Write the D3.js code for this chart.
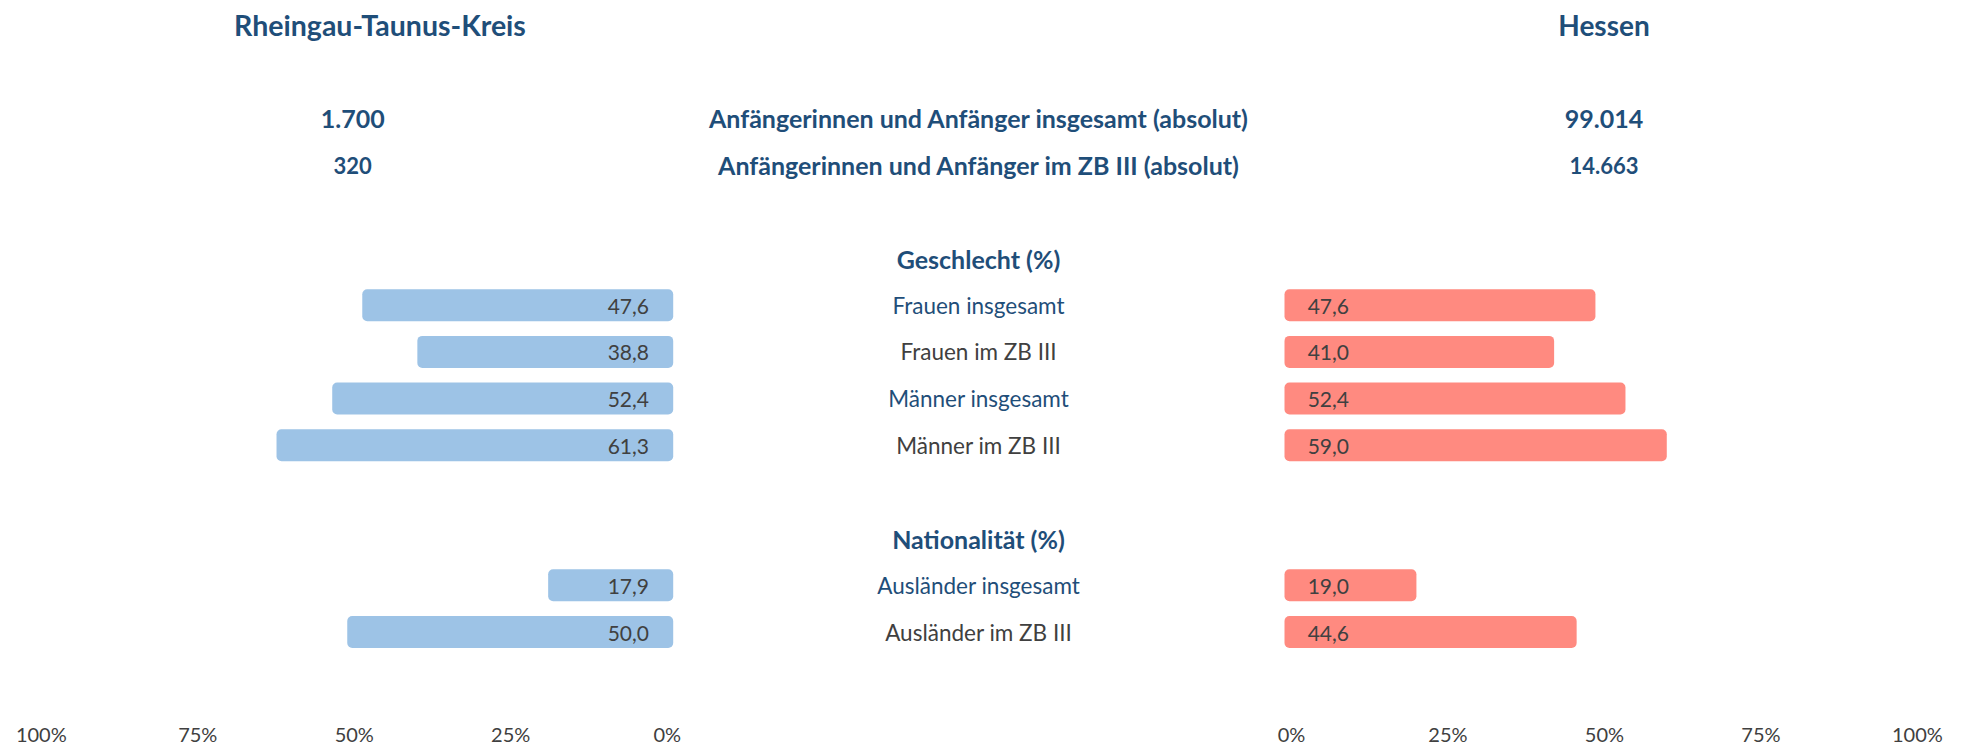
<!DOCTYPE html>
<html>
<head>
<meta charset="utf-8">
<script src="https://cdn.jsdelivr.net/npm/d3@7"></script>
<style>
  body { margin: 0; background: #fff; }
  text { font-family: Lato, "Open Sans", sans-serif; }
</style>
</head>
<body>
<div id="chart"></div>
<script>
// data
var regionNames = ["Rheingau-Taunus-Kreis", "Hessen"];
var totalLabels = ["Anfängerinnen und Anfänger insgesamt (absolut)", "Anfängerinnen und Anfänger im ZB III (absolut)"];
var kreisTotals = ["1.700", "320"];
var hessenTotals = ["99.014", "14.663"];
var groups = ["Geschlecht (%)", "Nationalität (%)"];
var categories = ["Frauen insgesamt", "Frauen im ZB III", "Männer insgesamt", "Männer im ZB III", "Ausländer insgesamt", "Ausländer im ZB III"];
var kreisValues = [47.6, 38.8, 52.4, 61.3, 17.9, 50.0];
var hessenValues = [47.6, 41.0, 52.4, 59.0, 19.0, 44.6];
var axisTicks = [0, 25, 50, 75, 100];

// row of each category / heading in the list (row 5 is left empty)
var groupRows = [0, 6];
var categoryRows = [1, 2, 3, 4, 7, 8];

const width = 1969, height = 746;
const darkBlue = "#1f4e79", grey = "#404040";
const blueBar = "#9dc3e6", redBar = "#ff8a80";
const midX = 978.5, leftX = 352.7, rightX = 1604;
const pad = 6.5, barH = 32;

const svg = d3.select("#chart").append("svg")
  .attr("width", width)
  .attr("height", height);

// vertical position by row
const rowY = d3.scaleLinear().domain([0, 8]).range([258.5, 632]);

// horizontal scales, left side goes to the left
const xL = d3.scaleLinear().domain([0, 100]).range([666.7, 40.8]);
const xR = d3.scaleLinear().domain([0, 100]).range([1291, 1916.9]);

// titles
svg.append("text").text(regionNames[0])
  .attr("x", 380).attr("y", rowY(-5))
  .attr("text-anchor", "middle").attr("dominant-baseline", "central")
  .attr("font-size", "28.5px").attr("font-weight", "bold").attr("fill", darkBlue);
svg.append("text").text(regionNames[1])
  .attr("x", rightX).attr("y", rowY(-5))
  .attr("text-anchor", "middle").attr("dominant-baseline", "central")
  .attr("font-size", "28px").attr("font-weight", "bold").attr("fill", darkBlue);

// absolute numbers
totalLabels.forEach(function (lab, i) {
  var y = rowY(-3 + i);
  var fs = i == 0 ? "25px" : "22px";
  svg.append("text").text(kreisTotals[i])
    .attr("x", leftX).attr("y", y)
    .attr("text-anchor", "middle").attr("dominant-baseline", "central")
    .attr("font-size", fs).attr("font-weight", "bold").attr("fill", darkBlue);
  svg.append("text").text(lab)
    .attr("x", midX).attr("y", y)
    .attr("text-anchor", "middle").attr("dominant-baseline", "central")
    .attr("font-size", "25px").attr("font-weight", "bold").attr("fill", darkBlue);
  svg.append("text").text(hessenTotals[i])
    .attr("x", rightX).attr("y", y)
    .attr("text-anchor", "middle").attr("dominant-baseline", "central")
    .attr("font-size", fs).attr("font-weight", "bold").attr("fill", darkBlue);
});

// group headings
svg.selectAll(".group")
  .data(groups)
  .enter()
  .append("text")
  .attr("class", "group")
  .text(function (d) { return d; })
  .attr("x", midX)
  .attr("y", function (d, i) { return rowY(groupRows[i]); })
  .attr("text-anchor", "middle").attr("dominant-baseline", "central")
  .attr("font-size", "25px").attr("font-weight", "bold").attr("fill", darkBlue);

// category labels
svg.selectAll(".cat")
  .data(categories)
  .enter()
  .append("text")
  .attr("class", "cat")
  .text(function (d) { return d; })
  .attr("x", midX)
  .attr("y", function (d, i) { return rowY(categoryRows[i]); })
  .attr("text-anchor", "middle").attr("dominant-baseline", "central")
  .attr("font-size", "22.5px")
  .attr("fill", function (d) {
    if (d.indexOf("insgesamt") >= 0) {
      return darkBlue;
    } else {
      return grey;
    }
  });

// left bars
svg.selectAll(".barL")
  .data(kreisValues)
  .enter()
  .append("rect")
  .attr("class", "barL")
  .attr("x", function (d) { return xL(d) - pad; })
  .attr("y", function (d, i) { return rowY(categoryRows[i]) - barH / 2; })
  .attr("width", function (d) { return xL(0) - xL(d) + 2 * pad; })
  .attr("height", barH)
  .attr("rx", 5)
  .attr("fill", blueBar);

svg.selectAll(".valL")
  .data(kreisValues)
  .enter()
  .append("text")
  .attr("class", "valL")
  .text(function (d) { return d.toFixed(1).replace(".", ","); })
  .attr("x", xL(0) - 17.7)
  .attr("y", function (d, i) { return rowY(categoryRows[i]); })
  .attr("text-anchor", "end").attr("dominant-baseline", "central")
  .attr("font-size", "21px").attr("fill", grey);

// right bars
svg.selectAll(".barR")
  .data(hessenValues)
  .enter()
  .append("rect")
  .attr("class", "barR")
  .attr("x", xR(0) - pad)
  .attr("y", function (d, i) { return rowY(categoryRows[i]) - barH / 2; })
  .attr("width", function (d) { return xR(d) - xR(0) + 2 * pad; })
  .attr("height", barH)
  .attr("rx", 5)
  .attr("fill", redBar);

svg.selectAll(".valR")
  .data(hessenValues)
  .enter()
  .append("text")
  .attr("class", "valR")
  .text(function (d) { return d.toFixed(1).replace(".", ","); })
  .attr("x", xR(0) + 16.7)
  .attr("y", function (d, i) { return rowY(categoryRows[i]); })
  .attr("text-anchor", "start").attr("dominant-baseline", "central")
  .attr("font-size", "21px").attr("fill", grey);

// percent axes at the bottom
var axisY = 734;
var gL = svg.append("g")
  .attr("transform", "translate(0," + axisY + ")")
  .call(d3.axisBottom(xL).tickValues(axisTicks).tickSize(0).tickFormat(function (d) { return d + "%"; }));
var gR = svg.append("g")
  .attr("transform", "translate(0," + axisY + ")")
  .call(d3.axisBottom(xR).tickValues(axisTicks).tickSize(0).tickFormat(function (d) { return d + "%"; }));
[gL, gR].forEach(function (g) {
  g.select(".domain").remove();
  g.selectAll("text")
    .attr("y", 0)
    .attr("dy", null)
    .attr("dominant-baseline", "central")
    .attr("font-family", "Lato, sans-serif")
    .attr("font-size", "20px")
    .attr("fill", grey);
});
</script>
</body>
</html>
